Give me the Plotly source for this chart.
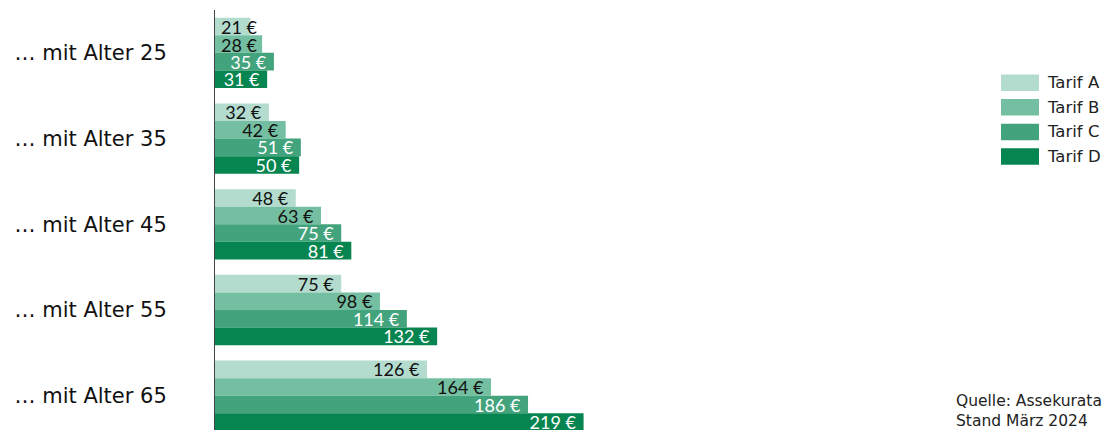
import plotly.graph_objects as go

# Monthly premiums (EUR) by entry age for four tariffs
age_groups = ["… mit Alter 25", "… mit Alter 35", "… mit Alter 45", "… mit Alter 55", "… mit Alter 65"]
tarif_names = ["Tarif A", "Tarif B", "Tarif C", "Tarif D"]
tarif_a = [21, 32, 48, 75, 126]
tarif_b = [28, 42, 63, 98, 164]
tarif_c = [35, 51, 75, 114, 186]
tarif_d = [31, 50, 81, 132, 219]
series = [tarif_a, tarif_b, tarif_c, tarif_d]

source_lines = ["Quelle: Assekurata", "Stand März 2024"]

colors = ["#b3dccf", "#74bfa1", "#42a37c", "#078550"]
label_colors = ["#111111", "#111111", "#ffffff", "#ffffff"]
FONT = "DejaVu Sans"
LABEL_FONT = "Lato"

W, H = 1106, 430
ML, MR, MT, MB = 215, 0, 10, 0
PX_PER_EUR = 1.683

plot_w = W - ML - MR
plot_h = H - MT - MB

def px_x(px):
    return (px - ML) / plot_w

def px_y(py):
    return (H - MB - py) / plot_h

def label_fits(v):
    # rough width of "NN €" at the label size vs. the bar length
    text_w = 10.2 * len(str(v)) + 15
    return v * PX_PER_EUR - 8 >= text_w + 5

fig = go.Figure()
annotations = []
for k, (name, vals, col, tcol) in enumerate(zip(tarif_names, series, colors, label_colors)):
    texts = [f"{v} €\u00a0" if label_fits(v) else "" for v in vals]
    fig.add_trace(go.Bar(
        name=name,
        y=age_groups,
        x=vals,
        orientation="h",
        marker=dict(color=col, line=dict(width=0)),
        text=texts,
        textposition="inside",
        insidetextanchor="end",
        constraintext="none",
        textfont=dict(family=LABEL_FONT, size=18, color=tcol),
        offsetgroup=str(k),
        showlegend=False,
        hoverinfo="skip",
    ))
    # short bars: label starts just right of the axis and runs past the bar end
    for g, v in zip(age_groups, vals):
        if not label_fits(v):
            annotations.append(dict(
                xref="x", yref="y", x=0, y=g, xanchor="left", yanchor="middle",
                xshift=4, yshift=(1.5 - k) * 17.6 - 1,
                text=f"{v} €", showarrow=False,
                font=dict(family=LABEL_FONT, size=18, color=tcol)))

# Legend drawn as swatches + labels on the right
shapes = []
row_top = 74.5
row_step = 24.6
sw_h = 16.5
for i, (name, col) in enumerate(zip(tarif_names, colors)):
    top = row_top + i * row_step
    shapes.append(dict(type="rect", xref="paper", yref="paper",
                       x0=px_x(1001), x1=px_x(1039),
                       y0=px_y(top + sw_h), y1=px_y(top),
                       fillcolor=col, line=dict(width=0), layer="above"))
    annotations.append(dict(xref="paper", yref="paper", x=px_x(1045), y=px_y(top + sw_h / 2),
                            xanchor="left", yanchor="middle", showarrow=False,
                            text=name, font=dict(family=FONT, size=16.5, color="#222222")))

for j, line in enumerate(source_lines):
    annotations.append(dict(xref="paper", yref="paper", x=px_x(954), y=px_y(401 + j * 19.5),
                            xanchor="left", yanchor="middle", showarrow=False,
                            text=line, font=dict(family=FONT, size=15.5, color="#222222")))

fig.update_layout(
    width=W, height=H,
    margin=dict(l=ML, r=MR, t=MT, b=MB, pad=0),
    paper_bgcolor="white", plot_bgcolor="white",
    barmode="group", bargap=0.18, bargroupgap=0,
    font=dict(family=FONT, color="#111111"),
    xaxis=dict(range=[0, plot_w / PX_PER_EUR], visible=False, fixedrange=True),
    yaxis=dict(
        range=[4.4, -0.5],
        showline=True, linecolor="#444444", linewidth=1,
        showgrid=False, zeroline=False, ticks="",
        ticklabelstandoff=43,
        tickfont=dict(family=FONT, size=21, color="#111111"),
        fixedrange=True,
    ),
    shapes=shapes,
    annotations=annotations,
)

fig.write_html("out.html")
